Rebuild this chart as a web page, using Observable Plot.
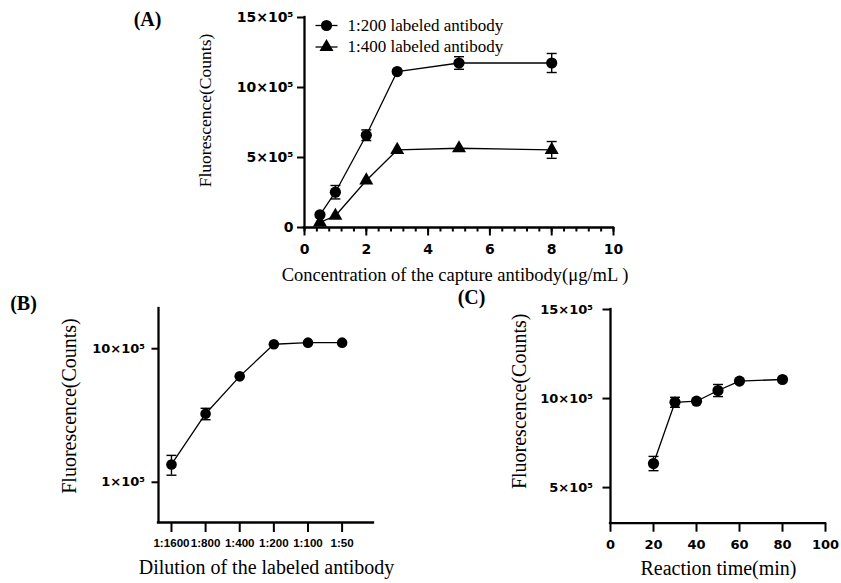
<!DOCTYPE html>
<html>
<head>
<meta charset="utf-8">
<script src="https://cdn.jsdelivr.net/npm/d3@7"></script>
<script src="https://cdn.jsdelivr.net/npm/@observablehq/plot@0.6"></script>
<style>
  html, body { margin: 0; padding: 0; background: #fff; }
  #wrap { position: relative; width: 841px; height: 583px; overflow: hidden; background: #fff; }
  #wrap > div { position: absolute; }
</style>
</head>
<body>
<div id="wrap">
  <div id="pa" style="left:0;top:0;"></div>
  <div id="pb" style="left:0;top:290px;"></div>
  <div id="pc" style="left:420px;top:290px;"></div>
</div>
<script>
// ---------------- Data ----------------
// Panel A: concentration of capture antibody (µg/mL)
const concA = [0.5, 1, 2, 3, 5, 8];
const fluor200 = [0.91e5, 2.52e5, 6.59e5, 11.14e5, 11.75e5, 11.75e5];
const sd200    = [0, 0.48e5, 0.38e5, 0, 0.45e5, 0.68e5];
const fluor400 = [0.36e5, 0.84e5, 3.36e5, 5.54e5, 5.66e5, 5.54e5];
const sd400    = [0, 0, 0, 0, 0, 0.6e5];
const legendA  = ["1:200 labeled antibody", "1:400 labeled antibody"];
const xTicksA  = [0, 2, 4, 6, 8, 10];
const yTicksA  = [0, 5e5, 10e5, 15e5];

// Panel B: dilution of labeled antibody
const dilutions = ["1:1600", "1:800", "1:400", "1:200", "1:100", "1:50"];
const fluorB = [1.36e5, 3.26e5, 6.21e5, 10.8e5, 11.1e5, 11.1e5];
const sdB    = [0.23e5, 0.32e5, 0, 0, 0, 0];
const yTicksB = [1e5, 1e6];

// Panel C: reaction time (min)
const timeC  = [20, 30, 40, 50, 60, 80];
const fluorC = [6.35e5, 9.79e5, 9.85e5, 10.45e5, 10.98e5, 11.07e5];
const sdC    = [0.4e5, 0.28e5, 0, 0.34e5, 0, 0];
const xTicksC = [0, 20, 40, 60, 80, 100];
const yTicksC = [5e5, 10e5, 15e5];

const titles = ["(A)", "(B)", "(C)"];
const yTitle = "Fluorescence(Counts)";
const xTitleA = "Concentration of the capture antibody(\u03bcg/mL )";
const xTitleB = "Dilution of the labeled antibody";
const xTitleC = "Reaction time(min)";

// ---------------- helpers ----------------
const hbar = {draw(ctx, size) { const r = Math.sqrt(size / Math.PI); ctx.moveTo(-r, 0); ctx.lineTo(r, 0); }};
const sup = (v) => `${v / 1e5}\u00d710\u2075`;
const serif = "Liberation Serif";
const sans = "DejaVu Sans";
const AX = 2.3; // axis stroke width

function rows(xs, ys, sds) { return xs.map((x, i) => ({x, y: ys[i], sd: sds[i]})); }
function errMarks(data, capR) {
  const e = data.filter(d => d.sd > 0);
  return [
    Plot.ruleX(e, {x: "x", y1: d => d.y - d.sd, y2: d => d.y + d.sd, stroke: "#000", strokeWidth: 1.4}),
    Plot.dot(e, {x: "x", y: d => d.y + d.sd, symbol: hbar, r: capR, fill: "none", stroke: "#000", strokeWidth: 1.4}),
    Plot.dot(e, {x: "x", y: d => d.y - d.sd, symbol: hbar, r: capR, fill: "none", stroke: "#000", strokeWidth: 1.4})
  ];
}
const baseStyle = {background: "transparent", fontFamily: sans, fontWeight: "bold", color: "#000", overflow: "visible"};
function label(txt, opts) {
  return Plot.text([txt], {text: d => d, fontFamily: serif, fontWeight: "normal", fill: "#000",
                           textAnchor: "middle", lineAnchor: "middle", ...opts});
}

// ---------------- Panel A ----------------
const dA200 = rows(concA, fluor200, sd200);
const dA400 = rows(concA, fluor400, sd400);
const plotA = Plot.plot({
  width: 700, height: 290,
  marginLeft: 304, marginRight: 87, marginTop: 17, marginBottom: 63,
  style: {...baseStyle, fontSize: "14px"},
  x: {domain: [0, 10]},
  y: {domain: [0, 15e5]},
  marks: [
    Plot.axisX({ticks: d3.range(0, 10.001, 0.4), tickSize: 4.5, tickFormat: () => "", strokeWidth: 2, label: null}),
    Plot.axisX({ticks: xTicksA, tickSize: 8.5, tickPadding: 8, strokeWidth: 2, fontSize: 14, label: null}),
    Plot.axisY({ticks: yTicksA, tickSize: 7, tickPadding: 4, strokeWidth: 2, fontSize: 14, label: null,
                tickFormat: d => d === 0 ? "0" : sup(d)}),
    Plot.ruleX([0], {strokeWidth: AX, strokeLinecap: "square"}),
    Plot.ruleY([0], {strokeWidth: AX, strokeLinecap: "square"}),
    Plot.line(dA200, {x: "x", y: "y", stroke: "#000", strokeWidth: 1.3}),
    Plot.line(dA400, {x: "x", y: "y", stroke: "#000", strokeWidth: 1.3}),
    ...errMarks(dA200, 5),
    ...errMarks(dA400, 5),
    Plot.dot(dA200, {x: "x", y: "y", r: 5.6, fill: "#000"}),
    Plot.dot(dA400, {x: "x", y: "y", r: 5.2, symbol: "triangle", fill: "#000"}),
    // legend
    Plot.dot([0], {frameAnchor: "top-left", dx: 22, dy: 8, symbol: hbar, r: 11, fill: "none", stroke: "#000", strokeWidth: 1.3}),
    Plot.dot([0], {frameAnchor: "top-left", dx: 22, dy: 8, r: 5.6, fill: "#000"}),
    Plot.dot([0], {frameAnchor: "top-left", dx: 22, dy: 29.5, symbol: hbar, r: 11, fill: "none", stroke: "#000", strokeWidth: 1.3}),
    Plot.dot([0], {frameAnchor: "top-left", dx: 22, dy: 29.5, r: 5.2, symbol: "triangle", fill: "#000"}),
    label(legendA[0], {frameAnchor: "top-left", dx: 43, dy: 8, textAnchor: "start", fontSize: 17}),
    label(legendA[1], {frameAnchor: "top-left", dx: 43, dy: 29.5, textAnchor: "start", fontSize: 17}),
    // titles
    label(titles[0], {frameAnchor: "top-left", dx: -157, dy: 2, fontSize: 20, fontWeight: "bold"}),
    label(yTitle, {frameAnchor: "left", dx: -99, dy: -12, rotate: -90, fontSize: 17.5}),
    label(xTitleA, {frameAnchor: "bottom", dx: -4, dy: 48, fontSize: 18.5})
  ]
});
document.getElementById("pa").append(plotA);

// ---------------- Panel B ----------------
const dB = fluorB.map((y, i) => ({x: i + 1, y, sd: sdB[i]}));
const plotB = Plot.plot({
  width: 420, height: 293,
  marginLeft: 158, marginRight: 47, marginTop: 18, marginBottom: 61,
  style: {...baseStyle, fontSize: "13px"},
  x: {domain: [0.62, 6.92]},
  y: {type: "log", domain: [5e4, 2e6]},
  marks: [
    Plot.axisX({ticks: dilutions.map((d, i) => i + 1), tickFormat: i => dilutions[i - 1], tickSize: 10, tickPadding: 6,
                strokeWidth: 2, fontSize: 11.6, fontFamily: "Liberation Sans", label: null}),
    Plot.axisY({ticks: yTicksB, tickSize: 6.5, tickPadding: 7, strokeWidth: 2, fontSize: 13, label: null, tickFormat: sup}),
    Plot.ruleX([0.62], {strokeWidth: AX, strokeLinecap: "square"}),
    Plot.ruleY([5e4], {strokeWidth: AX, strokeLinecap: "square"}),
    Plot.line(dB, {x: "x", y: "y", stroke: "#000", strokeWidth: 1.3}),
    ...errMarks(dB, 5),
    Plot.dot(dB, {x: "x", y: "y", r: 5.3, fill: "#000"}),
    label(titles[1], {frameAnchor: "top-left", dx: -135, dy: -5, fontSize: 20, fontWeight: "bold"}),
    label(yTitle, {frameAnchor: "left", dx: -89, dy: -9.5, rotate: -90, fontSize: 20}),
    label(xTitleB, {frameAnchor: "bottom", dx: 0.5, dy: 45, fontSize: 20})
  ]
});
document.getElementById("pb").append(plotB);

// ---------------- Panel C ----------------
const dC = rows(timeC, fluorC, sdC);
const plotC = Plot.plot({
  width: 421, height: 293,
  marginLeft: 190, marginRight: 16, marginTop: 19, marginBottom: 60.3,
  style: {...baseStyle, fontSize: "13px"},
  x: {domain: [0, 100]},
  y: {domain: [3e5, 15e5]},
  marks: [
    Plot.axisX({ticks: xTicksC, tickSize: 9, tickPadding: 8, strokeWidth: 2, fontSize: 13, label: null}),
    Plot.axisY({ticks: yTicksC, tickSize: 7.5, tickPadding: 10, strokeWidth: 2, fontSize: 13, label: null, tickFormat: sup}),
    Plot.ruleX([0], {strokeWidth: AX, strokeLinecap: "square"}),
    Plot.ruleY([3e5], {strokeWidth: AX, strokeLinecap: "square"}),
    Plot.line(dC, {x: "x", y: "y", stroke: "#000", strokeWidth: 1.3}),
    ...errMarks(dC, 5),
    Plot.dot(dC, {x: "x", y: "y", r: 5.6, fill: "#000"}),
    label(titles[2], {frameAnchor: "top-left", dx: -139, dy: -12, fontSize: 20, fontWeight: "bold"}),
    label(yTitle, {frameAnchor: "left", dx: -91, dy: -15, rotate: -90, fontSize: 20}),
    label(xTitleC, {frameAnchor: "bottom", dx: 0.5, dy: 45, fontSize: 20})
  ]
});
document.getElementById("pc").append(plotC);
</script>
</body>
</html>
